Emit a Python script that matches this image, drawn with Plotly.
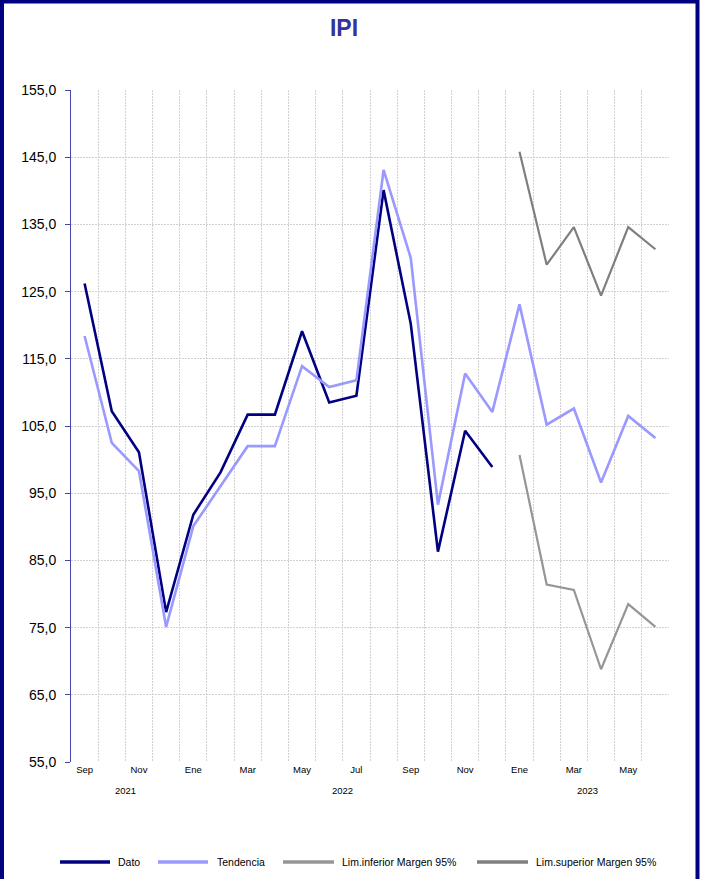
import plotly.graph_objects as go

# Monthly categories (Sep 2021 - Jun 2023)
months = ["Sep 2021", "Oct 2021", "Nov 2021", "Dic 2021",
          "Ene 2022", "Feb 2022", "Mar 2022", "Abr 2022", "May 2022", "Jun 2022",
          "Jul 2022", "Ago 2022", "Sep 2022", "Oct 2022", "Nov 2022", "Dic 2022",
          "Ene 2023", "Feb 2023", "Mar 2023", "Abr 2023", "May 2023", "Jun 2023"]
month_labels = ["Sep", "", "Nov", "", "Ene", "", "Mar", "", "May", "", "Jul", "",
                "Sep", "", "Nov", "", "Ene", "", "Mar", "", "May", ""]

dato = [126.2, 107.2, 101.1, 77.3, 91.8, 98.1, 106.7, 106.7, 119.1, 108.5, 109.5,
        140.1, 120.2, 86.3, 104.3, 98.9, None, None, None, None, None, None]
tendencia = [118.4, 102.5, 98.3, 75.1, 90.1, 96.0, 102.0, 102.0, 113.9, 110.8, 111.8,
             143.1, 130.0, 93.3, 112.8, 107.1, 123.1, 105.2, 107.6, 96.6, 106.5, 103.2]
lim_inferior = [None] * 16 + [100.7, 81.4, 80.6, 68.8, 78.5, 75.1]
lim_superior = [None] * 16 + [145.8, 129.0, 134.6, 124.4, 134.6, 131.3]

years = ["2021", "2022", "2023"]
year_centers = [1.5, 9.5, 18.5]   # middle category index of each year

series_names = ["Dato", "Tendencia", "Lim.inferior Margen 95%", "Lim.superior Margen 95%"]
series_values = [dato, tendencia, lim_inferior, lim_superior]
series_colors = ["#000080", "#9999ff", "#969696", "#7f7f7f"]
series_widths = [2.6, 2.6, 2.2, 2.2]

FONT = "Liberation Sans, Arial, sans-serif"
W, H = 704, 879
ML, MR, MT, MB = 71, 35, 90, 117
PW, PH = W - ML - MR, H - MT - MB


def px_x(p):
    return (p - ML) / PW


def px_y(p):
    return (H - MB - p) / PH


fig = go.Figure()
for name, vals, col, wd in zip(series_names, series_values, series_colors, series_widths):
    fig.add_trace(go.Scatter(x=months, y=vals, name=name, mode="lines",
                             line=dict(color=col, width=wd), connectgaps=False,
                             showlegend=False))

# year labels under the month labels
annotations = []
for yr, xc in zip(years, year_centers):
    annotations.append(dict(x=xc, y=0, xref="x", yref="paper", text=yr, showarrow=False,
                            yshift=-36, font=dict(family=FONT, size=9.5, color="#000000")))

# legend row drawn along the bottom
shapes = []
legend_line_px = [(60, 110), (158, 208), (283, 334), (477, 528)]
legend_text_px = [116, 215, 340, 534]
ly = px_y(862)
for name, col, (a, b), tx in zip(series_names, series_colors, legend_line_px, legend_text_px):
    shapes.append(dict(type="line", xref="paper", yref="paper", x0=px_x(a), x1=px_x(b),
                       y0=ly, y1=ly, line=dict(color=col, width=3.5)))
    annotations.append(dict(x=px_x(tx), y=ly, xref="paper", yref="paper", text=name,
                            showarrow=False, xanchor="left", yanchor="middle",
                            font=dict(family=FONT, size=10.5, color="#000000")))

# outer frame
shapes.append(dict(type="rect", xref="paper", yref="paper",
                   x0=px_x(2), x1=px_x(697.5), y0=px_y(H + 20), y1=px_y(1.5),
                   line=dict(color="#000080", width=4), fillcolor="rgba(0,0,0,0)", layer="above"))

GRID = "#d0d0d0"
fig.update_layout(
    width=W, height=H,
    margin=dict(l=ML, r=MR, t=MT, b=MB),
    paper_bgcolor="#ffffff", plot_bgcolor="#ffffff",
    separators=",.",
    title=dict(text="<b>IPI</b>", x=344 / W, xref="container", xanchor="center",
               y=1 - 28 / H, yref="container", yanchor="middle",
               font=dict(family=FONT, size=23, color="#333399")),
    xaxis=dict(type="category", categoryorder="array", categoryarray=months,
               range=[-0.5, len(months) - 0.5],
               tickmode="array", tickvals=months, ticktext=month_labels,
               tickson="boundaries", ticks="", showline=False, zeroline=False,
               showgrid=True, gridcolor=GRID, griddash="2px,1px", gridwidth=1,
               tickfont=dict(family=FONT, size=9.5, color="#000000")),
    yaxis=dict(range=[55, 155], tick0=55, dtick=10, tickformat=".1f",
               showline=True, linecolor="#4545b0", linewidth=1,
               ticks="outside", ticklen=5, tickcolor="#4545b0",
               ticklabelstandoff=6,
               showgrid=True, gridcolor=GRID, griddash="2px,1px", gridwidth=1,
               zeroline=False,
               tickfont=dict(family=FONT, size=14, color="#000000")),
    annotations=annotations,
    shapes=shapes,
    showlegend=False,
)

fig.write_html("out.html")
